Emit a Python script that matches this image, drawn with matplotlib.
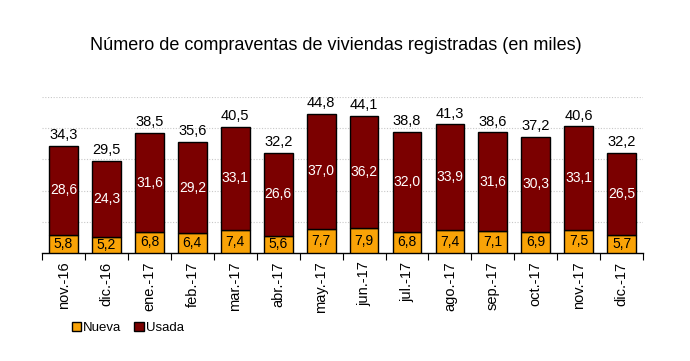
import matplotlib
matplotlib.use("Agg")
import matplotlib.pyplot as plt
import numpy as np

plt.rcParams['font.family'] = ['Liberation Sans', 'DejaVu Sans']

months = ["nov.-16", "dic.-16", "ene.-17", "feb.-17", "mar.-17", "abr.-17", "may.-17",
          "jun.-17", "jul.-17", "ago.-17", "sep.-17", "oct.-17", "nov.-17", "dic.-17"]
nueva = [5.8, 5.2, 6.8, 6.4, 7.4, 5.6, 7.7, 7.9, 6.8, 7.4, 7.1, 6.9, 7.5, 5.7]
usada = [28.6, 24.3, 31.6, 29.2, 33.1, 26.6, 37.0, 36.2, 32.0, 33.9, 31.6, 30.3, 33.1, 26.5]
total = [34.3, 29.5, 38.5, 35.6, 40.5, 32.2, 44.8, 44.1, 38.8, 41.3, 38.6, 37.2, 40.6, 32.2]

def fmt(v):
    return f"{v:.1f}".replace(".", ",")

fig = plt.figure(figsize=(6.9, 3.61), dpi=100)
ax = fig.add_axes([0.061, 0.299, 0.871, 0.432])
x = np.arange(len(months))
w = 0.67
b1 = ax.bar(x, nueva, w, color="#F9A307", edgecolor="black", linewidth=1.0, label="Nueva", zorder=3)
b2 = ax.bar(x, usada, w, bottom=nueva, color="#7B0000", edgecolor="black", linewidth=1.0, label="Usada", zorder=3)

for i in range(len(months)):
    ax.text(x[i], nueva[i] / 2, fmt(nueva[i]), ha="center", va="center", fontsize=10, color="black", zorder=4)
    ax.text(x[i], nueva[i] + usada[i] / 2, fmt(usada[i]), ha="center", va="center", fontsize=10, color="white", zorder=4)
    ax.text(x[i], total[i] + 1.2, fmt(total[i]), ha="center", va="bottom", fontsize=10.5, color="black", zorder=4)

ax.set_xlim(-0.5, len(months) - 0.5)
ax.set_ylim(0, 50)
ax.set_yticks([10, 20, 30, 40, 50])
ax.yaxis.grid(True, color="#C8C8C8", linestyle=(0, (1, 1.5)), linewidth=0.8, zorder=0)
ax.tick_params(axis="y", left=False, labelleft=False)
for s in ["top", "right", "left"]:
    ax.spines[s].set_visible(False)
ax.spines["bottom"].set_color("black")
ax.spines["bottom"].set_linewidth(1.0)

ax.set_xticks(x)
ax.set_xticklabels(months, rotation=90, fontsize=10.5)
ax.tick_params(axis="x", length=0, pad=6)
ax.set_xticks(np.arange(-0.5, len(months), 1.0), minor=True)
ax.tick_params(axis="x", which="minor", length=5, width=0.8, color="black", direction="out")

fig.text(0.487, 0.875, "Número de compraventas de viviendas registradas (en miles)",
         ha="center", va="center", fontsize=13)

leg = fig.legend(handles=[b1, b2], labels=["Nueva", "Usada"], loc="center", bbox_to_anchor=(0.185, 0.092),
                 ncol=2, frameon=False, fontsize=9.5, handlelength=0.7, handleheight=0.7,
                 handletextpad=0.15, columnspacing=1.0)

fig.savefig("out.png", dpi=100)
